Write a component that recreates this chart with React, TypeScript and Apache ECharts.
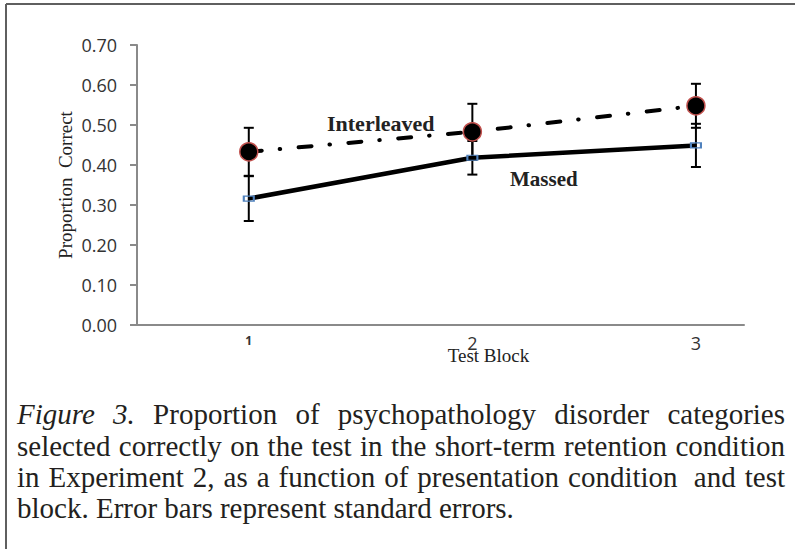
import React, { useEffect, useRef } from 'react';
import * as echarts from 'echarts';

// ---- data ----
const testBlocks = [1, 2, 3];
const interleavedMeans = [0.433, 0.483, 0.548];
const interleavedSE = [0.06, 0.07, 0.055];
const massedMeans = [0.316, 0.418, 0.449];
const massedSE = [0.056, 0.042, 0.054];
const yTicks = [0, 0.1, 0.2, 0.3, 0.4, 0.5, 0.6, 0.7];
const seriesNames = ['Interleaved', 'Massed'];
const xAxisTitle = 'Test Block';
const yAxisTitle = 'Proportion  Correct';

type Seg = { t: string; it?: boolean; dbl?: boolean };
const captionLine1: Seg[] = [
  { t: 'Figure', it: true }, { t: '3.', it: true }, { t: 'Proportion' }, { t: 'of' },
  { t: 'psychopathology' }, { t: 'disorder' }, { t: 'categories' },
];
const captionLine2: Seg[] = 'selected correctly on the test in the short-term retention condition'
  .split(' ').map((t) => ({ t }));
const captionLine3: Seg[] = [
  { t: 'in' }, { t: 'Experiment' }, { t: '2,' }, { t: 'as' }, { t: 'a' }, { t: 'function' },
  { t: 'of' }, { t: 'presentation' }, { t: 'condition' }, { t: 'and', dbl: true }, { t: 'test' },
];
const captionLine4: Seg[] = 'block. Error bars represent standard errors.'.split(' ').map((t) => ({ t }));
const captionLines = [captionLine1, captionLine2, captionLine3, captionLine4];
const captionJustify = [true, true, true, false];

const SERIF = '"Liberation Serif", "Times New Roman", serif';
const SANS = '"Open Sans", "Liberation Sans", sans-serif';

function buildCaption(): any[] {
  const ctx = document.createElement('canvas').getContext('2d') as CanvasRenderingContext2D;
  const fs = 29;
  const measure = (s: string, it?: boolean) => {
    ctx.font = `${it ? 'italic ' : ''}${fs}px ${SERIF}`;
    return ctx.measureText(s).width;
  };
  const left = 17;
  const right = 785;
  const baselines = [424, 455.5, 487, 517.5];
  const out: any[] = [];
  captionLines.forEach((line, li) => {
    const widths = line.map((s) => measure(s.t, s.it));
    const sp = measure(' ');
    const W = widths.reduce((a, b) => a + b, 0);
    const nd = line.filter((s) => s.dbl).length;
    const g = captionJustify[li] ? (right - left - W - nd * sp) / (line.length - 1) : sp;
    let x = left;
    line.forEach((s, i) => {
      if (i > 0) x += g + (s.dbl ? sp : 0);
      out.push({
        type: 'text',
        x,
        y: baselines[li] - fs * 0.34,
        silent: true,
        style: {
          text: s.t,
          fontFamily: SERIF,
          fontSize: fs,
          fontStyle: s.it ? 'italic' : 'normal',
          fill: '#231f20',
          align: 'left',
          verticalAlign: 'middle',
        },
      });
      x += widths[i];
    });
  });
  return out;
}

export default function App() {
  const ref = useRef<HTMLDivElement>(null);
  useEffect(() => {
    document.body.style.margin = '0';
    const chart = echarts.init(ref.current!, undefined, { renderer: 'svg' });
    const interData = testBlocks.map((x, i) => [x, interleavedMeans[i]]);
    const massData = testBlocks.map((x, i) => [x, massedMeans[i]]);
    const errData = [
      ...testBlocks.map((x, i) => [x, interleavedMeans[i], interleavedSE[i]]),
      ...testBlocks.map((x, i) => [x, massedMeans[i], massedSE[i]]),
    ];
    const axisGray = '#8a8a8a';
    const option: any = {
      animation: false,
      backgroundColor: '#ffffff',
      grid: { left: 137, right: 51, top: 45, bottom: 224, containLabel: false, outerBoundsMode: 'none' },
      xAxis: {
        type: 'value',
        min: 0.5,
        max: 3.215,
        splitLine: { show: false },
        axisTick: { show: false },
        axisLine: { show: true, onZero: false, lineStyle: { color: axisGray, width: 2 } },
        axisLabel: {
          customValues: testBlocks,
          margin: 9,
          color: '#333333',
          fontFamily: SANS,
          fontSize: 18,
          formatter: (v: number) => (v === 1 ? '{s|1}' : String(v)),
          rich: { s: { fontSize: 12, fontWeight: 'bold', fontFamily: SANS, color: '#333333' } },
        },
      },
      yAxis: {
        type: 'value',
        min: 0,
        max: 0.7,
        interval: 0.1,
        splitLine: { show: false },
        axisLine: { show: true, lineStyle: { color: axisGray, width: 2 } },
        axisTick: { show: true, length: 7, lineStyle: { color: axisGray, width: 2 } },
        axisLabel: {
          margin: 20,
          color: '#333333',
          fontFamily: SANS,
          fontSize: 18,
          formatter: (v: number) => v.toFixed(2),
        },
      },
      series: [
        {
          type: 'custom',
          name: 'SE',
          z: 1,
          data: errData,
          renderItem: (params: any, api: any) => {
            const x = api.value(0);
            const y = api.value(1);
            const e = api.value(2);
            const top = api.coord([x, y + e]);
            const bot = api.coord([x, y - e]);
            const hw = 5;
            const st = { stroke: '#000', lineWidth: 2 };
            return {
              type: 'group',
              children: [
                { type: 'line', shape: { x1: top[0], y1: top[1], x2: bot[0], y2: bot[1] }, style: st },
                { type: 'line', shape: { x1: top[0] - hw, y1: top[1], x2: top[0] + hw, y2: top[1] }, style: st },
                { type: 'line', shape: { x1: bot[0] - hw, y1: bot[1], x2: bot[0] + hw, y2: bot[1] }, style: st },
              ],
            };
          },
        },
        {
          type: 'line',
          name: seriesNames[0],
          z: 3,
          data: interData,
          symbol: 'circle',
          symbolSize: 18,
          lineStyle: { color: '#000', width: 4, type: [13, 18, 0.5, 18.5], cap: 'round' },
          itemStyle: { color: '#000', borderColor: '#c0504d', borderWidth: 1.5 },
        },
        {
          type: 'line',
          name: seriesNames[1],
          z: 2,
          data: massData,
          symbol: 'rect',
          symbolSize: [10, 5],
          lineStyle: { color: '#000', width: 4.5 },
          itemStyle: { color: 'rgba(0,0,0,0)', borderColor: '#4f81bd', borderWidth: 1.5 },
        },
      ],
      graphic: [
        { type: 'line', silent: true, shape: { x1: 6, y1: 4, x2: 795, y2: 4 }, style: { stroke: '#5f5f5f', lineWidth: 2 } },
        { type: 'line', silent: true, shape: { x1: 6, y1: 4, x2: 6, y2: 549 }, style: { stroke: '#5f5f5f', lineWidth: 2 } },
        {
          type: 'text', x: 327, y: 131 - 22 * 0.34, silent: true,
          style: { text: seriesNames[0], fontFamily: SERIF, fontSize: 22, fontWeight: 'bold', fill: '#222', align: 'left', verticalAlign: 'middle' },
        },
        {
          type: 'text', x: 510, y: 186 - 21 * 0.34, silent: true,
          style: { text: seriesNames[1], fontFamily: SERIF, fontSize: 21, fontWeight: 'bold', fill: '#222', align: 'left', verticalAlign: 'middle' },
        },
        {
          type: 'text', x: 488.5, y: 362 - 19 * 0.34, silent: true,
          style: { text: xAxisTitle, fontFamily: SERIF, fontSize: 19, fill: '#222', align: 'center', verticalAlign: 'middle' },
        },
        {
          type: 'text', x: 65.5, y: 185, rotation: Math.PI / 2, silent: true,
          style: { text: yAxisTitle, fontFamily: SERIF, fontSize: 19, fill: '#222', align: 'center', verticalAlign: 'middle' },
        },
        ...buildCaption(),
      ],
    };
    void yTicks;
    chart.setOption(option);
    return () => chart.dispose();
  }, []);
  return <div ref={ref} style={{ width: 795, height: 549 }} />;
}
